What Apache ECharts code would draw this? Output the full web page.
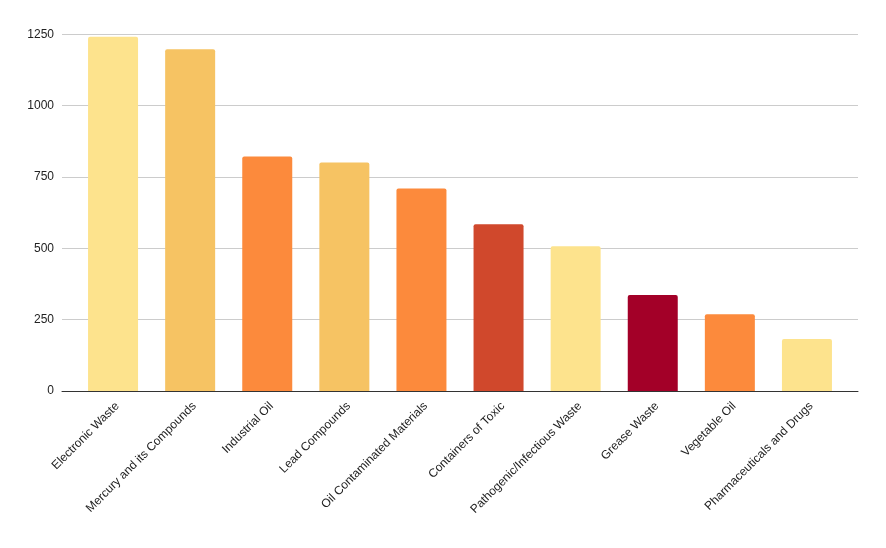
<!DOCTYPE html>
<html>
<head>
<meta charset="utf-8">
<script src="https://cdn.jsdelivr.net/npm/echarts@6/dist/echarts.min.js"></script>
<style>html,body{margin:0;padding:0;background:#fff}#c{width:886px;height:548px}</style>
</head>
<body>
<div id="c"></div>
<script>
const categories = ["Electronic Waste","Mercury and its Compounds","Industrial Oil","Lead Compounds","Oil Contaminated Materials","Containers of Toxic","Pathogenic/Infectious Waste","Grease Waste","Vegetable Oil","Pharmaceuticals and Drugs"];
const values = [1241, 1198, 822, 801, 710, 584, 507, 336, 269, 182];
const barColors = ["#FDE38D","#F6C363","#FC8A3C","#F6C363","#FC8A3C","#D0482C","#FDE38D","#A30028","#FC8A3C","#FDE38D"];
const yTicks = [0, 250, 500, 750, 1000, 1250];

const chart = echarts.init(document.getElementById('c'), null, {renderer:'canvas'});
const font = 'Liberation Sans, Arial, sans-serif';
chart.setOption({
  animation: false,
  grid: [
    {left: 62, right: 28, top: 34.3, bottom: 157, containLabel: false},
    {left: 74.5, right: 40.5, top: 34.3, bottom: 157, containLabel: false}
  ],
  xAxis: [
    {gridIndex: 0, type: 'value', min: 0, max: 1, show: true,
     axisLine: {show: true, lineStyle: {color: '#333', width: 1}},
     axisTick: {show: false}, axisLabel: {show: false}, splitLine: {show: false}},
    {gridIndex: 1, type: 'category', data: categories,
     axisLine: {show: false}, axisTick: {show: false},
     axisLabel: {rotate: 45, interval: 0, color: '#222', fontSize: 12, fontFamily: font, margin: 9, verticalAlign: 'top'}}
  ],
  yAxis: [
    {gridIndex: 0, type: 'value', min: 0, max: 1250, interval: 250,
     axisLine: {show: false}, axisTick: {show: false},
     axisLabel: {color: '#222', fontSize: 12, fontFamily: font, margin: 8,
       formatter: v => yTicks.includes(v) ? String(v) : ''},
     splitLine: {lineStyle: {color: '#cccccc', width: 1}}},
    {gridIndex: 1, type: 'value', min: 0, max: 1250, show: false}
  ],
  series: [{
    type: 'bar', xAxisIndex: 1, yAxisIndex: 1,
    data: values.map((v, i) => ({value: v, itemStyle: {color: barColors[i]}})),
    barWidth: 50,
    itemStyle: {borderRadius: [2, 2, 0, 0]}
  }]
});
</script>
</body>
</html>
